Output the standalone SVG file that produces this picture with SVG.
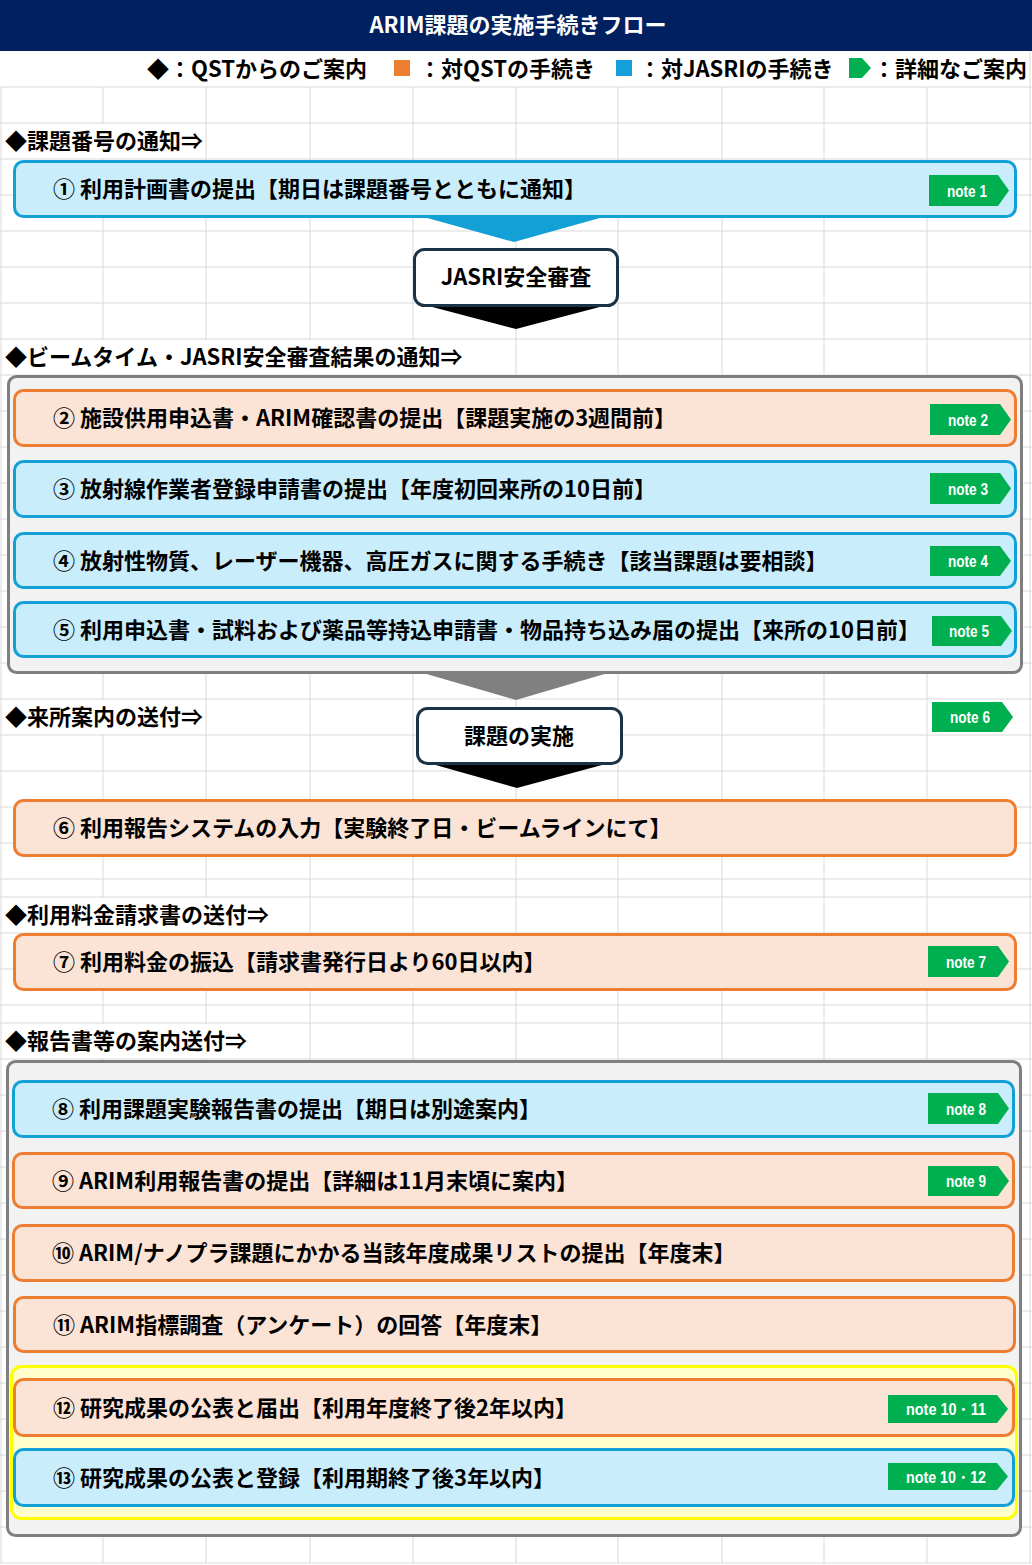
<svg xmlns="http://www.w3.org/2000/svg" width="1032" height="1565" viewBox="0 0 1032 1565">
<style>
.grid{stroke:#d9d9d9;stroke-width:1;fill:none}
.bl{fill:#caedfb;stroke:#13a0d7;stroke-width:3}
.or{fill:#fbe3d6;stroke:#ed7d31;stroke-width:3}
.dk{fill:#ffffff;stroke:#1b3346;stroke-width:3}
.cont{fill:#f2f2f2;stroke:#7f7f7f;stroke-width:3}
.yel{fill:#ffffcc;stroke:#ffff00;stroke-width:3}
.t{font-family:"Noto Sans CJK JP","Noto Sans",sans-serif;font-weight:700;font-size:22px;fill:#000;dominant-baseline:central}
.c{text-anchor:middle}
.ng{fill:#00b050}
.nt{font-family:"Liberation Sans Narrow","Liberation Sans",sans-serif;font-weight:700;font-size:16px;fill:#fff;text-anchor:middle;dominant-baseline:central}
</style>
<rect x="0" y="0" width="1032" height="1565" fill="#ffffff"/>
<g id="grid">
<path class="grid" d="M1,87V1563M103,87V1563M206,87V1563M310,87V1563M413,87V1563M516,87V1563M618,87V1563M722,87V1563M824,87V1563M927,87V1563M1030,51V1563"/>
<path class="grid" d="M0,87H1032M0,123H1032M0,159H1032M0,195H1032M0,231H1032M0,267H1032M0,303H1032M0,339H1032M0,375H1032M0,411H1032M0,447H1032M0,483H1032M0,519H1032M0,555H1032M0,591H1032M0,627H1032M0,663H1032M0,699H1032M0,735H1032M0,771H1032M0,807H1032M0,843H1032M0,879H1032M0,897H1032M0,933H1032M0,969H1032M0,1005H1032M0,1023H1032M0,1059H1032M0,1095H1032M0,1131H1032M0,1167H1032M0,1203H1032M0,1239H1032M0,1275H1032M0,1311H1032M0,1347H1032M0,1383H1032M0,1419H1032M0,1455H1032M0,1491H1032M0,1527H1032M0,1563H1032"/>
<rect x="2" y="124" width="203" height="34" fill="#fff"/>
<rect x="2" y="340" width="513" height="34" fill="#fff"/>
<rect x="2" y="700" width="203" height="34" fill="#fff"/>
<rect x="2" y="898" width="307" height="34" fill="#fff"/>
<rect x="2" y="1024" width="307" height="34" fill="#fff"/>
</g>
<g id="header">
<rect x="0" y="0" width="1032" height="51" fill="#002060"/>
<text class="t c" x="518" y="23" style="fill:#fff">ARIM課題の実施手続きフロー</text>
</g>
<g id="legend">
<text class="t" x="147" y="67">◆：QSTからのご案内</text>
<rect x="394" y="60" width="16" height="16" fill="#ed7d31"/>
<text class="t" x="419" y="67">：対QSTの手続き</text>
<rect x="616" y="60" width="16" height="16" fill="#13a0d7"/>
<text class="t" x="639" y="67">：対JASRIの手続き</text>
<path class="ng" d="M849,58H862L871,68L862,78H849Z"/>
<text class="t" x="873" y="67">：詳細なご案内</text>
</g>
<g id="sections">
<text class="t" x="5" y="139">◆課題番号の通知⇒</text>
<text class="t" x="5" y="355">◆ビームタイム・JASRI安全審査結果の通知⇒</text>
<text class="t" x="5" y="715">◆来所案内の送付⇒</text>
<text class="t" x="5" y="913">◆利用料金請求書の送付⇒</text>
<text class="t" x="5" y="1039">◆報告書等の案内送付⇒</text>
</g>
<g id="containers">
<rect class="cont" x="8.5" y="376.5" width="1013" height="296" rx="8"/>
<rect class="cont" x="7.5" y="1061.5" width="1013" height="474" rx="8"/>
<rect class="yel" x="11.5" y="1366.5" width="1005" height="152" rx="10"/>
</g>
<g id="connectors">
<polygon points="420,216 607,216 514,242" fill="#13a0d7"/>
<polygon points="421,304 611,304 516,329" fill="#000"/>
<polygon points="423,673 608,673 516,700" fill="#808080"/>
<polygon points="425,762 613,762 517,788" fill="#000"/>
</g>
<g id="n1"><rect class="bl" x="14.5" y="161.5" width="1001" height="55" rx="9"/><text class="t" x="53" y="187">① 利用計画書の提出【期日は課題番号とともに通知】</text>
<path class="ng" d="M929,175H998L1009,190.5L998,206H929Z"/><text class="nt" x="967" y="191" textLength="40" lengthAdjust="spacingAndGlyphs">note 1</text></g>
<g id="jasri"><rect class="dk" x="414.5" y="249.5" width="203" height="56" rx="10"/><text class="t c" x="516" y="275">JASRI安全審査</text></g>
<g id="n2"><rect class="or" x="14.5" y="390.5" width="1001" height="55" rx="9"/><text class="t" x="53" y="416">② 施設供用申込書・ARIM確認書の提出【課題実施の3週間前】</text>
<path class="ng" d="M930,404H1000L1011,419.5L1000,435H930Z"/><text class="nt" x="968" y="420" textLength="40" lengthAdjust="spacingAndGlyphs">note 2</text></g>
<g id="n3"><rect class="bl" x="14.5" y="461.5" width="1001" height="55" rx="9"/><text class="t" x="53" y="487">③ 放射線作業者登録申請書の提出【年度初回来所の10日前】</text>
<path class="ng" d="M930,473H1000L1011,488.5L1000,504H930Z"/><text class="nt" x="968" y="489" textLength="40" lengthAdjust="spacingAndGlyphs">note 3</text></g>
<g id="n4"><rect class="bl" x="14.5" y="533.5" width="1001" height="54" rx="9"/><text class="t" x="53" y="558.5">④ 放射性物質、レーザー機器、高圧ガスに関する手続き【該当課題は要相談】</text>
<path class="ng" d="M930,546H1000L1011,561L1000,576H930Z"/><text class="nt" x="968" y="561" textLength="40" lengthAdjust="spacingAndGlyphs">note 4</text></g>
<g id="n5"><rect class="bl" x="14.5" y="602.5" width="1001" height="54" rx="9"/><text class="t" x="53" y="627.5">⑤ 利用申込書・試料および薬品等持込申請書・物品持ち込み届の提出【来所の10日前】</text>
<path class="ng" d="M932,616H1001L1012,631L1001,646H932Z"/><text class="nt" x="969" y="631" textLength="40" lengthAdjust="spacingAndGlyphs">note 5</text></g>
<g id="note6"><path class="ng" d="M932,702H1002L1013,717L1002,732H932Z"/><text class="nt" x="970" y="717" textLength="40" lengthAdjust="spacingAndGlyphs">note 6</text></g>
<g id="jisshi"><rect class="dk" x="417.5" y="708.5" width="204" height="55" rx="10"/><text class="t c" x="519" y="734">課題の実施</text></g>
<g id="n6"><rect class="or" x="14.5" y="800.5" width="1001" height="55" rx="9"/><text class="t" x="53" y="826">⑥ 利用報告システムの入力【実験終了日・ビームラインにて】</text></g>
<g id="n7"><rect class="or" x="14.5" y="934.5" width="1001" height="55" rx="9"/><text class="t" x="53" y="960">⑦ 利用料金の振込【請求書発行日より60日以内】</text>
<path class="ng" d="M928,946H998L1009,961.5L998,977H928Z"/><text class="nt" x="966" y="962" textLength="40" lengthAdjust="spacingAndGlyphs">note 7</text></g>
<g id="n8"><rect class="bl" x="13.5" y="1081.5" width="1000" height="55" rx="9"/><text class="t" x="52" y="1107">⑧ 利用課題実験報告書の提出【期日は別途案内】</text>
<path class="ng" d="M928,1093H998L1009,1108.5L998,1124H928Z"/><text class="nt" x="966" y="1109" textLength="40" lengthAdjust="spacingAndGlyphs">note 8</text></g>
<g id="n9"><rect class="or" x="13.5" y="1153.5" width="1000" height="54" rx="9"/><text class="t" x="52" y="1178.5">⑨ ARIM利用報告書の提出【詳細は11月末頃に案内】</text>
<path class="ng" d="M928,1166H998L1009,1181L998,1196H928Z"/><text class="nt" x="966" y="1181" textLength="40" lengthAdjust="spacingAndGlyphs">note 9</text></g>
<g id="n10"><rect class="or" x="13.5" y="1225.5" width="1000" height="55" rx="9"/><text class="t" x="52" y="1251">⑩ ARIM/ナノプラ課題にかかる当該年度成果リストの提出【年度末】</text></g>
<g id="n11"><rect class="or" x="14.5" y="1297.5" width="1000" height="54" rx="9"/><text class="t" x="53" y="1322.5">⑪ ARIM指標調査（アンケート）の回答【年度末】</text></g>
<g id="n12"><rect class="or" x="14.5" y="1379.5" width="999" height="56" rx="9"/><text class="t" x="53" y="1405.5">⑫ 研究成果の公表と届出【利用年度終了後2年以内】</text>
<path class="ng" d="M888,1395H997L1008,1409L997,1423H888Z"/><text class="nt" x="946" y="1409" textLength="80" lengthAdjust="spacingAndGlyphs">note 10・11</text></g>
<g id="n13"><rect class="bl" x="14.5" y="1449.5" width="999" height="56" rx="9"/><text class="t" x="53" y="1475.5">⑬ 研究成果の公表と登録【利用期終了後3年以内】</text>
<path class="ng" d="M888,1463H997L1008,1476.5L997,1490H888Z"/><text class="nt" x="946" y="1477" textLength="80" lengthAdjust="spacingAndGlyphs">note 10・12</text></g>
</svg>
